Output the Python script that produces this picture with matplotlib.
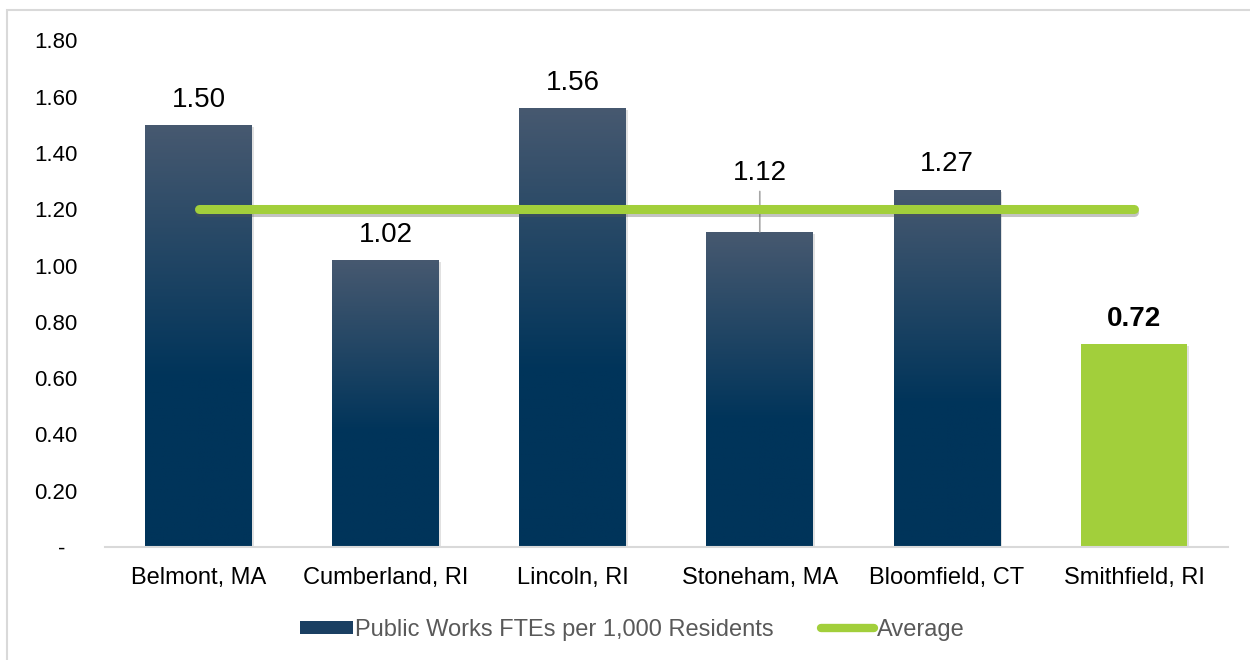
import numpy as np
import matplotlib.pyplot as plt
import matplotlib.patheffects as pe
from matplotlib.patches import Patch, Rectangle
from matplotlib.lines import Line2D

plt.rcParams['font.family'] = ['Liberation Sans', 'DejaVu Sans']

# Data
towns = ['Belmont, MA', 'Cumberland, RI', 'Lincoln, RI', 'Stoneham, MA',
         'Bloomfield, CT', 'Smithfield, RI']
ftes = [1.50, 1.02, 1.56, 1.12, 1.27, 0.72]
average = [1.20] * len(towns)
y_ticks = [0, 0.2, 0.4, 0.6, 0.8, 1.0, 1.2, 1.4, 1.6, 1.8]

navy_top = np.array([71, 89, 112]) / 255
navy_bot = np.array([0, 52, 90]) / 255
green = '#a2cf3b'

fig = plt.figure(figsize=(12.5, 6.6), dpi=100)
ax = fig.add_axes([0.084, 0.171, 0.898, 0.768])

x = np.arange(len(towns))
bars = ax.bar(x, ftes, width=0.57, color='none', zorder=2,
              path_effects=[pe.SimplePatchShadow(offset=(1.5, -1.5), shadow_rgbFace='#888888', alpha=0.25),
                            pe.Normal()])

# vertical gradient: dark for the lower part, lighter toward the top
t = np.linspace(0, 1, 256)
frac = np.clip((t - 0.4) / 0.6, 0, 1)
grad = navy_bot[None, :] * (1 - frac[:, None]) + navy_top[None, :] * frac[:, None]
grad_img = grad[:, None, :]

for i, b in enumerate(bars):
    x0, w, h = b.get_x(), b.get_width(), b.get_height()
    if towns[i] == 'Smithfield, RI':
        b.set_facecolor(green)
        continue
    im = ax.imshow(grad_img, extent=[x0, x0 + w, 0, h], origin='lower',
                   aspect='auto', zorder=2.5)
    im.set_clip_path(b)

# average line
ax.plot(x, average, color=green, lw=6.5, solid_capstyle='round', zorder=4,
        path_effects=[pe.SimpleLineShadow(offset=(0, -2), shadow_color='#555555', alpha=0.35),
                      pe.Normal()])

# value labels
for i, v in enumerate(ftes):
    bold = towns[i] == 'Smithfield, RI'
    if towns[i] == 'Stoneham, MA':
        ax.annotate(f'{v:.2f}', (i, v), xytext=(0, 37), textcoords='offset points',
                    ha='center', va='baseline', fontsize=20, zorder=5)
        ax.annotate('', (i, v), xytext=(0, 29), textcoords='offset points',
                    arrowprops=dict(arrowstyle='-', color='#a6a6a6', lw=1.2,
                                    shrinkA=0, shrinkB=0), zorder=3)
    else:
        ax.annotate(f'{v:.2f}', (i, v), xytext=(0, 13), textcoords='offset points',
                    ha='center', va='baseline', fontsize=20,
                    fontweight='bold' if bold else 'normal', zorder=5)

ax.set_xlim(-0.5, len(towns) - 0.5)
ax.set_ylim(0, 1.8)
ax.set_xticks(x)
ax.set_xticklabels(towns, fontsize=17)
ax.set_yticks(y_ticks)
ax.set_yticklabels(['-  '] + [f'{v:.2f}' for v in y_ticks[1:]], fontsize=16)
ax.tick_params(length=0)
ax.tick_params(axis='y', pad=20)
ax.tick_params(axis='x', pad=14)
for s in ['top', 'right', 'left']:
    ax.spines[s].set_visible(False)
ax.spines['bottom'].set_color('#d9d9d9')
ax.spines['bottom'].set_linewidth(1.5)

handles = [Patch(facecolor='#1a3f62', edgecolor='none'),
           Line2D([], [], color=green, lw=6, solid_capstyle='round')]
fig.legend(handles, ['Public Works FTEs per 1,000 Residents', 'Average'],
           loc='center', bbox_to_anchor=(632 / 1250, 1 - 630 / 660), ncol=2,
           frameon=False, fontsize=17, labelcolor='#595959',
           handlelength=2.25, handleheight=0.5, handletextpad=0.1, columnspacing=2.0)

# outer chart border
fig.add_artist(Rectangle((6.5 / 1250, -0.1), 1.2, 1 - 9.5 / 660 + 0.1,
                         transform=fig.transFigure, fill=False,
                         edgecolor='#d9d9d9', lw=1.5))

fig.savefig('out.png', dpi=100)
